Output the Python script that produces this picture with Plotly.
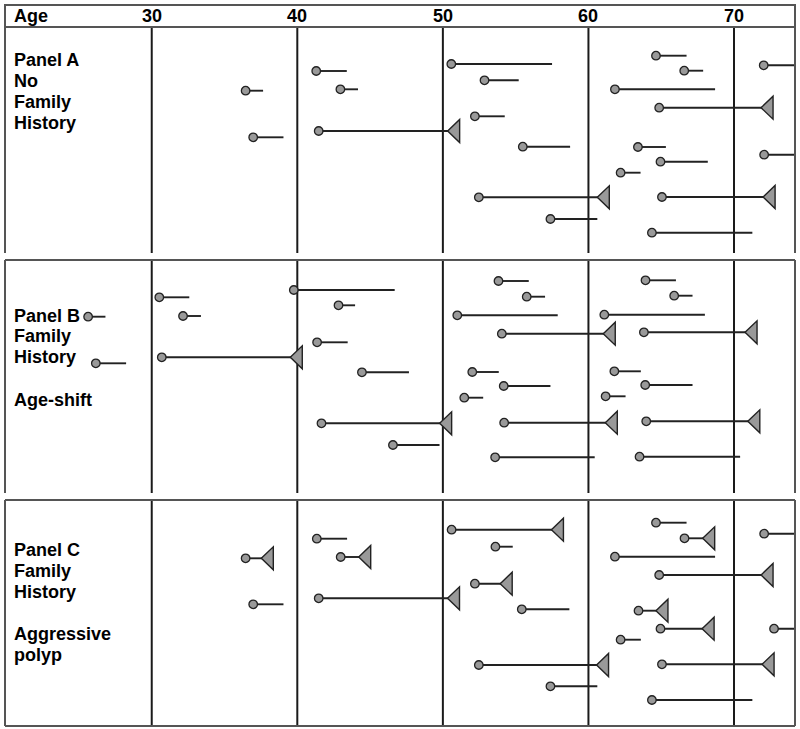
import plotly.graph_objects as go

W, H = 800, 729
FONT = "Arial, 'Liberation Sans', Helvetica, sans-serif"

# ---------------- data ----------------
tick_ages = [30, 40, 50, 60, 70]
tick_labels = ["30", "40", "50", "60", "70"]
age_min, age_max = 19.92, 74.19

# Panel A: No family history
a_start = [41.3, 36.45, 42.96, 36.97, 41.47, 64.64, 50.58, 72.04, 66.58, 52.86, 61.82,
           64.86, 52.2, 55.49, 63.4, 72.07, 64.95, 62.21, 52.47, 65.05, 57.39, 64.36]
a_end = [43.4, 37.65, 44.17, 39.05, 50.74, 66.74, 57.5, 75.0, 67.88, 55.21, 68.7,
         72.27, 54.25, 58.74, 65.32, 75.0, 68.2, 63.58, 61.02, 72.41, 60.61, 71.26]
a_row = [44, 63.7, 62.3, 110.3, 104, 28.7, 37, 38.3, 43.7, 53.3, 62.3,
         80.7, 89.3, 119.7, 120, 127.7, 134.7, 145.7, 170.3, 170, 192, 205.7]
a_tri = [0, 0, 0, 0, 1, 0, 0, 0, 0, 0, 0,
         1, 0, 0, 0, 0, 0, 0, 1, 1, 0, 0]
a_labels = ["Panel A", "No", "Family", "History"]
a_label_pos = [33, 53.7, 74.5, 95.5]

# Panel B: Family history, age-shift
b_start = [30.52, 25.63, 32.15, 39.76, 42.83, 41.36, 30.69, 26.16, 44.44, 41.66, 46.57,
           53.82, 63.92, 55.76, 65.89, 50.99, 61.09, 54.05, 63.81, 52.02, 61.78, 54.18,
           63.9, 51.47, 61.18, 54.21, 63.97, 53.59, 63.51]
b_end = [32.58, 26.82, 33.38, 46.69, 43.97, 43.46, 39.93, 28.24, 47.67, 50.19, 49.77,
         55.9, 66.01, 57.02, 67.15, 57.89, 68.0, 61.43, 71.17, 53.84, 63.6, 57.39,
         67.15, 52.77, 62.55, 61.57, 71.36, 60.43, 70.42]
b_row = [37.3, 56.7, 56, 30, 45.3, 82.3, 97.3, 103.3, 112.3, 163.3, 185,
         21, 20.3, 36.7, 35.7, 55.3, 54.7, 73.7, 72.3, 112, 111.3, 126,
         125, 137.7, 136.3, 162.7, 161.3, 197.3, 196.7]
b_tri = [0, 0, 0, 0, 0, 0, 1, 0, 0, 1, 0,
         0, 0, 0, 0, 0, 0, 1, 1, 0, 0, 0,
         0, 0, 0, 1, 1, 0, 0]
b_labels = ["Panel B", "Family", "History", "", "Age-shift"]
b_label_pos = [55.7, 76, 96.7, 118, 140]

# Panel C: Family history, aggressive polyp
c_start = [41.34, 36.45, 42.98, 36.97, 41.47, 50.6, 64.64, 72.07, 53.61, 66.6, 61.82,
           64.86, 52.2, 55.42, 63.44, 64.95, 72.75, 62.21, 52.47, 65.05, 57.39, 64.36]
c_end = [43.42, 37.94, 44.63, 39.05, 50.73, 57.87, 66.74, 75.0, 54.8, 68.26, 68.7,
         72.27, 54.35, 58.69, 65.05, 68.22, 75.0, 63.6, 60.97, 72.34, 60.61, 71.26]
c_row = [38.7, 58.3, 57, 104.3, 98.3, 29.7, 22.7, 33.7, 46.7, 38.3, 56.7,
         75, 83.7, 109.3, 110.7, 128.7, 128.7, 139.7, 165, 164.3, 186.3, 200]
c_tri = [0, 1, 1, 0, 1, 1, 0, 0, 0, 1, 0,
         1, 1, 0, 1, 1, 0, 0, 1, 1, 0, 0]
c_labels = ["Panel C", "Family", "History", "", "Aggressive", "polyp"]
c_label_pos = [50, 71, 91.7, 112.5, 134, 155]

# ---------------- layout helpers ----------------
LEFT, RIGHT = 5, 795
HEAD_TOP, HEAD_BOT = 5, 27
LINE_C = "#222222"
BORDER_C = "#555555"
FILL_C = "#999999"


def px(x):
    return x / W


def py(y):
    return 1 - y / H


panels = [
    dict(start=a_start, end=a_end, row=a_row, tri=a_tri, labels=a_labels,
         lpos=a_label_pos, top=27, bottom=253, bottom_line=False),
    dict(start=b_start, end=b_end, row=b_row, tri=b_tri, labels=b_labels,
         lpos=b_label_pos, top=260, bottom=493, bottom_line=False),
    dict(start=c_start, end=c_end, row=c_row, tri=c_tri, labels=c_labels,
         lpos=c_label_pos, top=500, bottom=726, bottom_line=True),
]

fig = go.Figure()
shapes = []
annotations = []
layout_axes = {}

for i, p in enumerate(panels):
    yname = "y" if i == 0 else f"y{i+1}"
    ykey = "yaxis" if i == 0 else f"yaxis{i+1}"
    height = p["bottom"] - p["top"]
    layout_axes[ykey] = dict(domain=[py(p["bottom"]), py(p["top"])],
                             range=[height, 0], visible=False, fixedrange=True,
                             anchor="x")

    # segments
    xs, ys = [], []
    for s, e, r in zip(p["start"], p["end"], p["row"]):
        xs += [s, e, None]
        ys += [r, r, None]
    fig.add_trace(go.Scatter(x=xs, y=ys, xaxis="x", yaxis=yname, mode="lines",
                             line=dict(color=LINE_C, width=1.9),
                             hoverinfo="skip", showlegend=False))
    # start circles
    fig.add_trace(go.Scatter(x=p["start"], y=p["row"], xaxis="x", yaxis=yname,
                             mode="markers",
                             marker=dict(symbol="circle", size=8.5, color=FILL_C,
                                         line=dict(color=LINE_C, width=1.3)),
                             hoverinfo="skip", showlegend=False, cliponaxis=False))

    # gridlines
    for t in tick_ages:
        shapes.append(dict(type="line", xref="x", yref=f"{yname} domain",
                           x0=t, x1=t, y0=0, y1=1,
                           line=dict(color="#1a1a1a", width=2), layer="below"))
    # borders
    shapes.append(dict(type="line", xref="paper", yref="paper",
                       x0=px(LEFT), x1=px(LEFT), y0=py(p["bottom"]), y1=py(p["top"]),
                       line=dict(color=BORDER_C, width=2)))
    shapes.append(dict(type="line", xref="paper", yref="paper",
                       x0=px(RIGHT), x1=px(RIGHT), y0=py(p["bottom"]), y1=py(p["top"]),
                       line=dict(color=BORDER_C, width=2)))
    shapes.append(dict(type="line", xref="paper", yref="paper",
                       x0=px(LEFT), x1=px(RIGHT), y0=py(p["top"]), y1=py(p["top"]),
                       line=dict(color=BORDER_C, width=2)))
    if p["bottom_line"]:
        shapes.append(dict(type="line", xref="paper", yref="paper",
                           x0=px(LEFT), x1=px(RIGHT), y0=py(p["bottom"]), y1=py(p["bottom"]),
                           line=dict(color=BORDER_C, width=2)))

    # triangles at end of segments that end with an event
    for e, r, t in zip(p["end"], p["row"], p["tri"]):
        if t:
            shapes.append(dict(type="path", xref="x", yref=yname,
                               xsizemode="pixel", ysizemode="pixel",
                               xanchor=e, yanchor=r,
                               path="M -6,0 L 6,11.5 L 6,-11.5 Z",
                               fillcolor=FILL_C,
                               line=dict(color=LINE_C, width=1.4),
                               layer="above"))

    # panel labels
    for txt, lp in zip(p["labels"], p["lpos"]):
        if txt:
            annotations.append(dict(text=f"<b>{txt}</b>", xref="paper", yref="paper",
                                    x=px(12), y=py(p["top"] + lp),
                                    xanchor="left", yanchor="middle", showarrow=False,
                                    font=dict(family=FONT, size=18, color="#000000")))

# header box
shapes.append(dict(type="rect", xref="paper", yref="paper",
                   x0=px(LEFT), x1=px(RIGHT), y0=py(HEAD_BOT), y1=py(HEAD_TOP),
                   line=dict(color=BORDER_C, width=2)))
annotations.append(dict(text="<b>Age</b>", xref="paper", yref="paper",
                        x=px(12), y=py(16), xanchor="left", yanchor="middle",
                        showarrow=False, font=dict(family=FONT, size=18, color="#000000")))
for t, lab in zip(tick_ages, tick_labels):
    annotations.append(dict(text=f"<b>{lab}</b>", xref="x", yref="paper",
                            x=t, y=py(16), xanchor="center", yanchor="middle",
                            showarrow=False, font=dict(family=FONT, size=18, color="#000000")))

fig.update_layout(
    width=W, height=H,
    margin=dict(l=0, r=0, t=0, b=0),
    paper_bgcolor="white", plot_bgcolor="white",
    xaxis=dict(domain=[px(LEFT), px(RIGHT)], range=[age_min, age_max],
               visible=False, fixedrange=True, anchor="y"),
    shapes=shapes,
    annotations=annotations,
    showlegend=False,
    hovermode=False,
    **layout_axes,
)

fig.write_html("out.html",
               config={"displayModeBar": False, "staticPlot": True},
               post_script="document.body.style.margin='0';document.body.style.overflow='hidden';")
